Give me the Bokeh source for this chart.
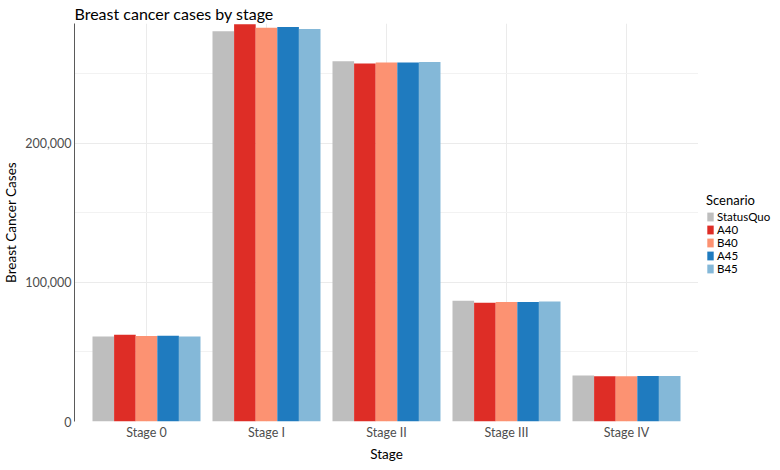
from bokeh.plotting import figure
from bokeh.layouts import row
from bokeh.models import (ColumnDataSource, FactorRange, Range1d, FixedTicker,
                          NumeralTickFormatter, Legend, LegendItem)
from bokeh.transform import dodge
from bokeh.embed import file_html
from bokeh.resources import INLINE

stages = ["Stage 0", "Stage I", "Stage II", "Stage III", "Stage IV"]
scenarios = ["StatusQuo", "A40", "B40", "A45", "B45"]
statusquo = [61000, 280400, 258800, 86800, 33000]
a40 = [62400, 285400, 257200, 85400, 32500]
b40 = [61500, 282900, 257900, 85900, 32500]
a45 = [61700, 283400, 257900, 85900, 32700]
b45 = [61000, 282000, 258400, 86300, 32700]
y_ticks = [0, 100000, 200000]
y_minor = [50000, 150000, 250000]

colors = ["#BEBEBE", "#DE2D26", "#FC9272", "#1F7BBF", "#84B8D8"]
series = [statusquo, a40, b40, a45, b45]

data = {"stage": stages}
for name, vals in zip(scenarios, series):
    data[name] = vals
src = ColumnDataSource(data)

FONT = "Lato"

p = figure(frame_width=624, frame_height=398, output_backend="svg", toolbar_location=None,
           x_range=FactorRange(*stages, range_padding=0.1, range_padding_units="absolute"),
           y_range=Range1d(0, 286000),
           title="Breast cancer cases by stage",
           min_border_left=0, min_border_right=0, min_border_top=0, min_border_bottom=0)

bw = 0.18
offsets = [-0.36, -0.18, 0.0, 0.18, 0.36]
for name, off, col in zip(scenarios, offsets, colors):
    p.vbar(x=dodge("stage", off, range=p.x_range), top=name, width=bw,
           source=src, fill_color=col, line_color=None)

p.title.text_font = FONT
p.title.text_font_size = "16px"
p.title.text_font_style = "normal"
p.title.text_color = "#000000"
p.title.standoff = 2

p.outline_line_color = None
p.background_fill_color = "white"

p.yaxis.ticker = FixedTicker(ticks=y_ticks, minor_ticks=y_minor)
p.yaxis.formatter = NumeralTickFormatter(format="0,0")
p.yaxis.axis_label = "Breast Cancer Cases"
p.xaxis.axis_label = "Stage"
for ax in (p.xaxis, p.yaxis):
    ax.axis_label_text_font = FONT
    ax.axis_label_text_font_size = "13.5px"
    ax.axis_label_text_font_style = "normal"
    ax.axis_label_text_color = "#000000"
    ax.major_label_text_font = FONT
    ax.major_label_text_font_size = "12.5px"
    ax.major_label_text_color = "#4D4D4D"
    ax.major_tick_line_color = None
    ax.minor_tick_line_color = None
    ax.major_tick_out = 0
    ax.major_tick_in = 0
    ax.minor_tick_out = 0
    ax.minor_tick_in = 0
    ax.major_label_standoff = 3
    ax.axis_label_standoff = 3
p.xaxis.axis_line_color = None
p.yaxis.axis_line_color = "#5A5A5A"
p.yaxis.axis_line_width = 1

p.xgrid.grid_line_color = "#EBEBEB"
p.ygrid.grid_line_color = "#EBEBEB"
p.ygrid.minor_grid_line_color = "#F2F2F2"

# legend panel as a separate, axis-less figure (swatches come from off-view renderers)
lg = figure(width=76, height=454, output_backend="svg", toolbar_location=None,
            x_range=Range1d(0, 1), y_range=Range1d(0, 1),
            min_border_left=0, min_border_right=0, min_border_top=0, min_border_bottom=0)
lg.axis.visible = False
lg.grid.visible = False
lg.outline_line_color = None
swatch = ColumnDataSource({"x": [5.0], "top": [1.0]})
items = []
for name, col in zip(scenarios, colors):
    r = lg.vbar(x="x", top="top", width=0.1, source=swatch, fill_color=col, line_color=None)
    items.append(LegendItem(label=name, renderers=[r]))

legend = Legend(items=items, title="Scenario", location=(8, 136),
                orientation="vertical")
legend.title_text_font = FONT
legend.title_text_font_size = "13px"
legend.title_text_font_style = "normal"
legend.title_text_color = "#000000"
legend.title_standoff = 2
legend.label_text_font = FONT
legend.label_text_font_size = "11.5px"
legend.label_text_color = "#000000"
legend.glyph_width = 8
legend.glyph_height = 11
legend.label_height = 11
legend.label_standoff = 3
legend.spacing = 0
legend.padding = 2
legend.margin = 0
legend.border_line_color = None
legend.background_fill_alpha = 0
lg.add_layout(legend, "center")

layout = row(p, lg)
open("out.html", "w").write(file_html(layout, INLINE))
